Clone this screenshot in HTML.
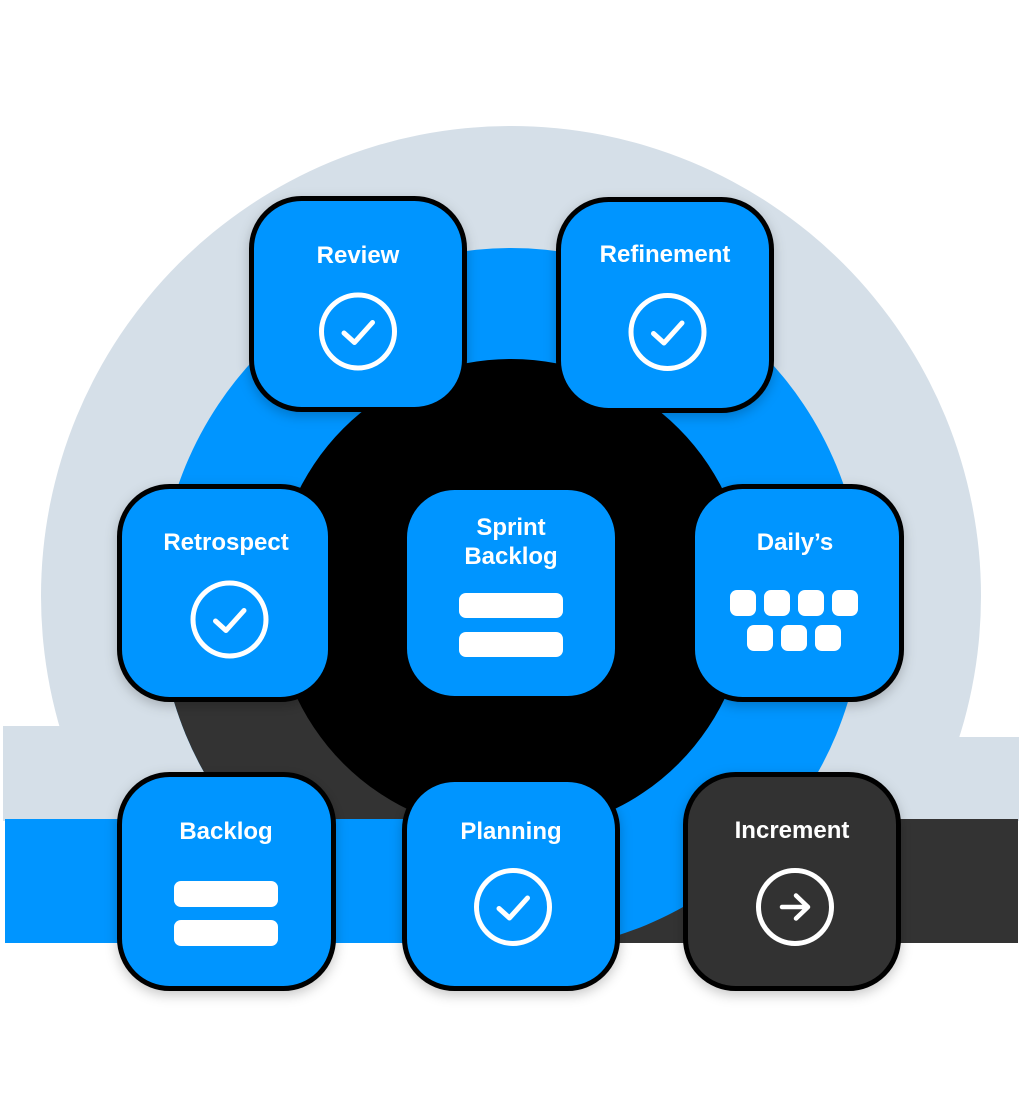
<!DOCTYPE html>
<html>
<head>
<meta charset="utf-8">
<style>
  html,body{margin:0;padding:0;background:#fff;}
  body{width:1023px;height:1111px;overflow:hidden;}
  svg{display:block;}
  text{font-family:"Liberation Sans",Arial,sans-serif;font-weight:bold;font-size:24px;fill:#fff;text-anchor:middle;}
</style>
</head>
<body>
<svg width="1023" height="1111" viewBox="0 0 1023 1111" xmlns="http://www.w3.org/2000/svg">
  <defs>
    <filter id="sh" x="-20%" y="-20%" width="140%" height="140%">
      <feDropShadow dx="0" dy="4" stdDeviation="6" flood-color="#000" flood-opacity="0.22"/>
    </filter>
    <clipPath id="llq"><rect x="0" y="596" width="511" height="500"/></clipPath>
    <clipPath id="top"><rect x="0" y="0" width="1023" height="820"/></clipPath>
  </defs>

  <!-- light gray background shape -->
  <circle cx="511" cy="596" r="470" fill="#D5DFE8" clip-path="url(#top)"/>
  <rect x="3" y="726" width="510" height="95" fill="#D5DFE8"/>
  <rect x="511" y="737" width="508" height="84" fill="#D5DFE8"/>

  <!-- right dark band -->
  <rect x="511" y="819" width="507" height="124" fill="#333333"/>

  <!-- ring -->
  <circle cx="511" cy="600" r="352" fill="#0095FF"/>
  <circle cx="511" cy="600" r="352" fill="#333333" clip-path="url(#llq)"/>

  <!-- left blue band -->
  <rect x="5" y="819" width="506" height="124" fill="#0095FF"/>

  <!-- inner black circle -->
  <circle cx="511" cy="596" r="237" fill="#000"/>

  <!-- Boxes -->
  <g filter="url(#sh)" stroke="#000" stroke-width="5">
    <rect x="251.5" y="198.5" width="213" height="211" rx="50" fill="#0095FF"/>
    <rect x="558.5" y="199.5" width="213" height="211" rx="50" fill="#0095FF"/>
    <rect x="119.5" y="486.5" width="211" height="213" rx="50" fill="#0095FF"/>
    <rect x="404.5" y="487.5" width="213" height="211" rx="50" fill="#0095FF"/>
    <rect x="692.5" y="486.5" width="209" height="213" rx="50" fill="#0095FF"/>
    <rect x="119.5" y="774.5" width="214" height="214" rx="50" fill="#0095FF"/>
    <rect x="404.5" y="779.5" width="213" height="209" rx="50" fill="#0095FF"/>
    <rect x="685.5" y="774.5" width="213" height="214" rx="50" fill="#333333"/>
  </g>

  <!-- Labels -->
  <text x="358" y="263">Review</text>
  <text x="665" y="262">Refinement</text>
  <text x="226" y="550">Retrospect</text>
  <text x="511" y="535">Sprint</text>
  <text x="511" y="564">Backlog</text>
  <text x="795" y="550">Daily’s</text>
  <text x="226" y="839">Backlog</text>
  <text x="511" y="839">Planning</text>
  <text x="792" y="838">Increment</text>

  <!-- check icons -->
  <g fill="none" stroke="#fff" stroke-width="5" stroke-linecap="round" stroke-linejoin="round">
    <g transform="translate(358,331.5)">
      <circle r="36.5"/><path d="M-14 1.5 L-3.5 11 L14.5 -9"/>
    </g>
    <g transform="translate(667.5,332)">
      <circle r="36.5"/><path d="M-14 1.5 L-3.5 11 L14.5 -9"/>
    </g>
    <g transform="translate(229.5,619.5)">
      <circle r="36.5"/><path d="M-14 1.5 L-3.5 11 L14.5 -9"/>
    </g>
    <g transform="translate(513,907)">
      <circle r="36.5"/><path d="M-14 1.5 L-3.5 11 L14.5 -9"/>
    </g>
    <g transform="translate(795,907)">
      <circle r="36.5"/>
      <path d="M-13 0 L13 0 M1 -11.5 L13 0 L1 11.5" stroke-width="4.5"/>
    </g>
  </g>

  <!-- bars -->
  <g fill="#fff">
    <rect x="459" y="593" width="104" height="25" rx="7"/>
    <rect x="459" y="632" width="104" height="25" rx="7"/>
    <rect x="174" y="881" width="104" height="26" rx="7"/>
    <rect x="174" y="920" width="104" height="26" rx="7"/>
    <!-- daily squares -->
    <rect x="730" y="590" width="26" height="26" rx="7"/>
    <rect x="764" y="590" width="26" height="26" rx="7"/>
    <rect x="798" y="590" width="26" height="26" rx="7"/>
    <rect x="832" y="590" width="26" height="26" rx="7"/>
    <rect x="747" y="625" width="26" height="26" rx="7"/>
    <rect x="781" y="625" width="26" height="26" rx="7"/>
    <rect x="815" y="625" width="26" height="26" rx="7"/>
  </g>
</svg>
</body>
</html>
